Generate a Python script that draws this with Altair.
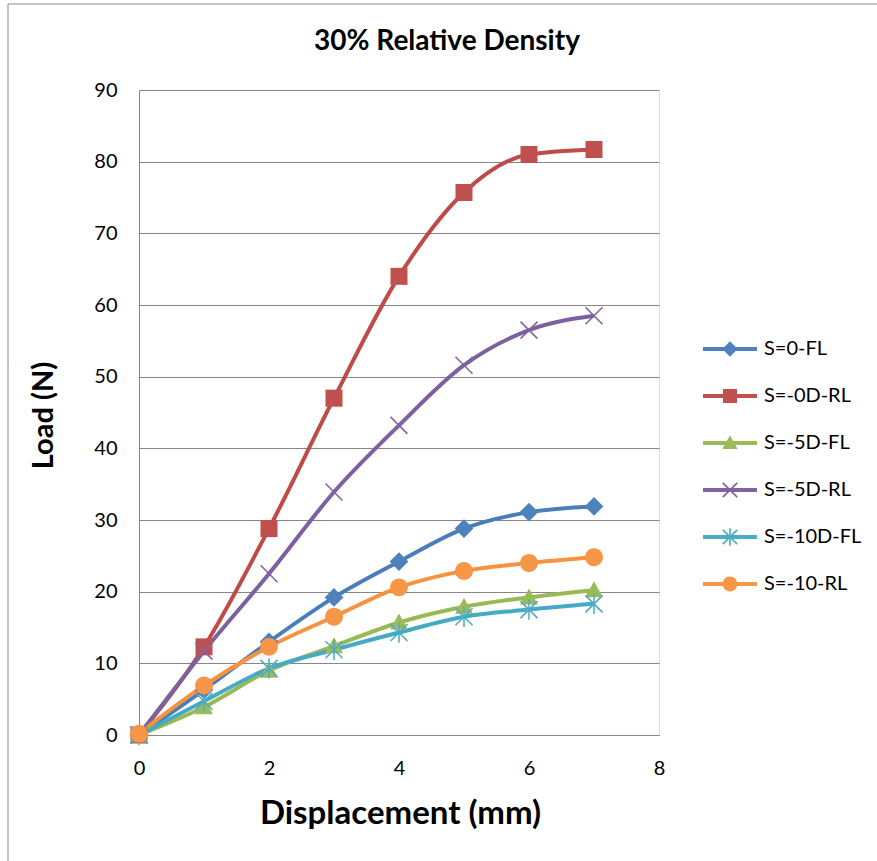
import math
import altair as alt
import pandas as pd

# ---------------- data ----------------
displacement = [0, 1, 2, 3, 4, 5, 6, 7]
s0_fl = [0.0, 6.3, 13.0, 19.2, 24.2, 28.8, 31.1, 31.9]
s0d_rl = [0.0, 12.3, 28.8, 47.0, 64.0, 75.7, 81.0, 81.7]
s5d_fl = [0.0, 3.9, 9.0, 12.4, 15.7, 17.9, 19.2, 20.2]
s5d_rl = [0.0, 11.7, 22.5, 33.9, 43.2, 51.6, 56.5, 58.5]
s10d_fl = [0.0, 4.7, 9.3, 11.9, 14.3, 16.5, 17.5, 18.3]
s10_rl = [0.2, 6.9, 12.3, 16.5, 20.6, 22.9, 24.0, 24.8]

series_names = ["S=0-FL", "S=-0D-RL", "S=-5D-FL", "S=-5D-RL", "S=-10D-FL", "S=-10-RL"]
series_values = [s0_fl, s0d_rl, s5d_fl, s5d_rl, s10d_fl, s10_rl]
line_colors = ["#4A7EBB", "#BE4B48", "#98B954", "#7D60A0", "#46AAC5", "#F69240"]
marker_colors = ["#4F81BD", "#C0504D", "#9BBB59", "#8064A2", "#4BACC6", "#F79646"]
x_ticks = [0, 2, 4, 6, 8]
y_ticks = [0, 10, 20, 30, 40, 50, 60, 70, 80, 90]

rows = []
for name, vals in zip(series_names, series_values):
    for xv, yv in zip(displacement, vals):
        rows.append({"x": xv, "y": yv, "series": name})
df = pd.DataFrame(rows)

FONT = "Lato"

# ---------------- marker shapes as SVG paths ----------------
def f(v):
    return f"{v:.3f}"

def poly(pts):
    area = 0.0
    for i in range(len(pts)):
        x1, y1 = pts[i]
        x2, y2 = pts[(i + 1) % len(pts)]
        area += x1 * y2 - x2 * y1
    if area < 0:
        pts = pts[::-1]
    s = "M" + f(pts[0][0]) + "," + f(pts[0][1])
    for p in pts[1:]:
        s += "L" + f(p[0]) + "," + f(p[1])
    return s + "Z"

def bar(p1, p2, t):
    dx, dy = p2[0] - p1[0], p2[1] - p1[1]
    ln = math.hypot(dx, dy)
    nx, ny = -dy / ln * t, dx / ln * t
    return poly([(p1[0] - nx, p1[1] - ny), (p2[0] - nx, p2[1] - ny),
                 (p2[0] + nx, p2[1] + ny), (p1[0] + nx, p1[1] + ny)])

def diamond(r):
    return poly([(0, -r), (r, 0), (0, r), (-r, 0)])

def square(r):
    return poly([(-r, -r), (r, -r), (r, r), (-r, r)])

def triangle(r):
    return poly([(0, -r), (r, 0.8 * r), (-r, 0.8 * r)])

def circle(r):
    return (f"M{f(-r)},0A{f(r)},{f(r)} 0 1,1 {f(r)},0"
            f"A{f(r)},{f(r)} 0 1,1 {f(-r)},0Z")

def xmark(r, t):
    return bar((-r, -r), (r, r), t) + bar((-r, r), (r, -r), t)

def star(r, t):
    return xmark(r, t) + bar((0, -1.2 * r), (0, 1.2 * r), t)

plot_shapes = [diamond(1.1), square(1.0), triangle(1.05), xmark(1.0, 0.09),
               star(1.0, 0.09), circle(1.05)]
seg = poly([(-3, -0.23), (3, -0.23), (3, 0.23), (-3, 0.23)])
legend_shapes = [seg + diamond(0.85), seg + square(0.78), seg + triangle(0.85),
                 seg + xmark(0.8, 0.09), seg + star(0.8, 0.09), seg + circle(0.82)]

x_scale = alt.Scale(domain=[0, 8], nice=False, zero=False)
y_scale = alt.Scale(domain=[0, 90], nice=False)

x_enc = alt.X("x:Q", scale=x_scale, axis=alt.Axis(
    values=x_ticks, format="d", grid=False, ticks=False, tickSize=0, labelPadding=23,
    labelFlush=False, labelFontSize=20, labelFont=FONT, labelColor="black",
    domainColor="#868686", domainWidth=1,
    title="Displacement (mm)", titleFont=FONT, titleFontSize=33,
    titleFontWeight="bold", titleColor="black", titleBaseline="alphabetic",
    titleY=88, titleX=261, titleAnchor="middle"))
y_enc = alt.Y("y:Q", scale=y_scale, axis=alt.Axis(
    values=y_ticks, format="d", grid=True, gridColor="#868686", gridWidth=1,
    ticks=False, tickSize=0, labelPadding=22, labelFontSize=20, labelFlush=False,
    labelFont=FONT, labelColor="black", domainColor="#868686", domainWidth=1,
    title="Load (N)", titleFont=FONT, titleFontSize=29, titleFontWeight="bold",
    titleColor="black", titleAngle=270, titleBaseline="alphabetic",
    titleAlign="center", titleX=-87, titleY=325))

base = alt.Chart(df)

lines = base.mark_line(interpolate="monotone", strokeWidth=4).encode(
    x=x_enc, y=y_enc,
    color=alt.Color("series:N", scale=alt.Scale(domain=series_names, range=line_colors), legend=None),
    order=alt.Order("x:Q"),
)

points = base.mark_point(filled=True, opacity=1, size=289, strokeWidth=0).encode(
    x="x:Q", y="y:Q",
    color=alt.Color("series:N", scale=alt.Scale(domain=series_names, range=marker_colors), legend=None),
    shape=alt.Shape("series:N", scale=alt.Scale(domain=series_names, range=plot_shapes), legend=None),
)

leg = dict(orient="none", legendX=581, legendY=249, title=None, labelFont=FONT,
           labelFontSize=20, labelColor="black", labelOffset=24, rowPadding=27,
           symbolSize=324, symbolStrokeWidth=0, symbolOpacity=1, padding=0, offset=0)

legend_layer = base.mark_point(filled=True, opacity=1, size=324, strokeWidth=0).encode(
    x="x:Q", y="y:Q",
    color=alt.Color("series:N", scale=alt.Scale(domain=series_names, range=marker_colors),
                    legend=alt.Legend(**leg)),
    shape=alt.Shape("series:N", scale=alt.Scale(domain=series_names, range=legend_shapes),
                    legend=alt.Legend(**leg)),
).transform_filter("datum.x < 0")

frame = alt.Chart(pd.DataFrame({"a": [0]})).mark_rect(
    filled=False, stroke="#8a8a8a", strokeWidth=1
).encode(
    x=alt.value(8 - 139), x2=alt.value(900 - 139),
    y=alt.value(4 - 90), y2=alt.value(900 - 90),
)

chart = alt.layer(frame, lines, points, legend_layer).resolve_scale(
    color="independent", shape="independent"
).properties(
    width=520, height=645,
    title=alt.TitleParams("30% Relative Density", font=FONT, fontSize=28,
                          fontWeight="bold", color="black", anchor="middle",
                          dx=48, offset=-74, baseline="alphabetic"),
    autosize=alt.AutoSizeParams(type="none"),
    padding={"left": 139, "top": 90, "right": 218, "bottom": 126},
).configure_view(stroke=None).configure(background="white")

chart.save("out.html", embed_options={"renderer": "svg", "actions": False})
